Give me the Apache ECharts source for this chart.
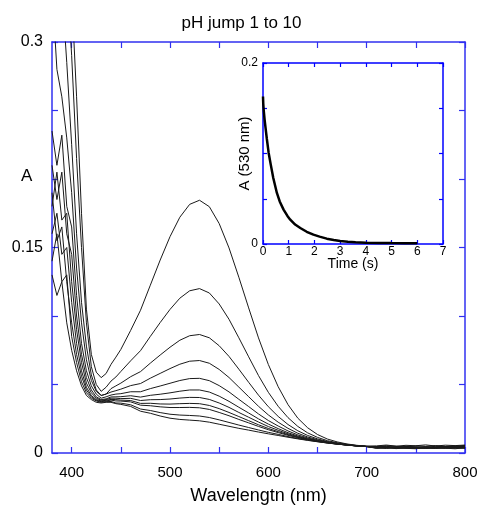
<!DOCTYPE html>
<html><head><meta charset="utf-8">
<script src="https://cdn.jsdelivr.net/npm/echarts@6/dist/echarts.min.js"></script>
<style>html,body{margin:0;padding:0;background:#fff}#c{width:483px;height:510px}</style>
</head><body><div id="c"></div>
<script>
// ---- data ----
const wavelengths = [380,385,390,395,400,405,410,415,420,425,430,435,440,445,450,
  460,470,480,490,500,510,520,530,540,550,560,570,580,590,600,610,620,630,640,650,660,670,680,690,700,
  710,720,730,740,750,760,770,780,790,800];

const spectrum1 = [0.60,0.53,0.46,0.40,0.335,0.26,0.175,0.105,0.072,0.059,0.055,0.058,0.0647,0.070,0.0756,
  0.0895,0.1042,0.1225,0.1408,0.1579,0.1721,0.1815,0.1845,0.1798,0.1675,0.1497,0.1283,0.1059,0.084,0.0646,0.0484,0.0353,0.0254,0.0184,0.0135,0.0102,0.0081,0.0066,0.0056,0.0050,
  0.0052,0.0058,0.0050,0.0056,0.0053,0.0059,0.0051,0.0057,0.0054,0.0058];
const spectrum2 = [0.55,0.48,0.41,0.35,0.29,0.215,0.15,0.095,0.063,0.05,0.045,0.048,0.0525,0.0555,0.0595,
  0.0673,0.0747,0.0851,0.0952,0.1048,0.113,0.1184,0.12,0.1168,0.1088,0.0976,0.0841,0.0702,0.0565,0.0443,0.0341,0.0258,0.0194,0.0147,0.0114,0.009,0.0075,0.0063,0.0054,0.0049,
  0.0047,0.0053,0.0049,0.0044,0.0052,0.0048,0.0054,0.0047,0.0051,0.0055];
const spectrum3 = [0.46,0.40,0.34,0.285,0.225,0.16,0.11,0.078,0.057,0.046,0.042,0.043,0.047,0.049,0.051,
  0.0557,0.0594,0.0656,0.0715,0.0772,0.0823,0.0856,0.0865,0.0841,0.0783,0.0705,0.0612,0.0516,0.0422,0.0338,0.0267,0.0208,0.0162,0.0128,0.0103,0.0084,0.0071,0.0061,0.0054,0.0048,
  0.0044,0.0049,0.0042,0.0048,0.0045,0.0041,0.0049,0.0046,0.0050,0.0048];
const spectrum4 = [0.34,0.28,0.26,0.23,0.19,0.135,0.095,0.068,0.053,0.045,0.042,0.043,0.0445,0.0455,0.0466,
  0.0492,0.0507,0.0546,0.0581,0.0616,0.0648,0.067,0.0675,0.0655,0.061,0.0551,0.0481,0.0411,0.0341,0.0278,0.0225,0.018,0.0144,0.0117,0.0097,0.0081,0.0069,0.006,0.0053,0.0048,
  0.0046,0.0041,0.0047,0.0043,0.0039,0.0046,0.0042,0.0048,0.0044,0.0047];
const spectrum5 = [0.235,0.21,0.232,0.18,0.165,0.115,0.08,0.06,0.049,0.043,0.040,0.041,0.0423,0.043,0.0433,
  0.0447,0.0447,0.047,0.0489,0.0509,0.0529,0.0543,0.0545,0.0528,0.0492,0.0446,0.0392,0.0339,0.0285,0.0237,0.0197,0.0161,0.0132,0.011,0.0092,0.0079,0.0068,0.0059,0.0052,0.0047,
  0.0041,0.0045,0.0038,0.0044,0.0042,0.0037,0.0045,0.0040,0.0046,0.0043];
const spectrum6 = [0.21,0.185,0.205,0.16,0.145,0.10,0.072,0.055,0.046,0.041,0.039,0.0395,0.0409,0.041,0.0411,
  0.0418,0.0408,0.0421,0.0429,0.0439,0.0451,0.046,0.046,0.0445,0.0415,0.0377,0.0334,0.0292,0.0249,0.0211,0.0178,0.0148,0.0124,0.0105,0.0089,0.0077,0.0067,0.0059,0.0052,0.0047,
  0.0043,0.0038,0.0042,0.0036,0.0043,0.0039,0.0035,0.0042,0.0038,0.0044];
const spectrum7 = [0.18,0.205,0.17,0.175,0.125,0.09,0.066,0.051,0.044,0.040,0.0385,0.039,0.040,0.040,0.0397,
  0.0399,0.0383,0.0389,0.039,0.0394,0.0401,0.0406,0.0405,0.0391,0.0365,0.0333,0.0296,0.0261,0.0226,0.0193,0.0166,0.014,0.0119,0.0102,0.0088,0.0076,0.0066,0.0058,0.0052,0.0047,
  0.0039,0.0044,0.0037,0.0041,0.0035,0.0042,0.0038,0.0034,0.0041,0.0045];
const spectrum8 = [0.16,0.175,0.145,0.15,0.11,0.08,0.06,0.048,0.042,0.039,0.038,0.0385,0.0391,0.039,0.0386,
  0.0383,0.0362,0.0363,0.0358,0.0357,0.036,0.0362,0.036,0.0347,0.0324,0.0296,0.0266,0.0236,0.0206,0.0179,0.0156,0.0134,0.0115,0.0099,0.0086,0.0075,0.0066,0.0058,0.0052,0.0047,
  0.0036,0.0041,0.0034,0.0039,0.0037,0.0033,0.0040,0.0036,0.0042,0.0039];
const spectrum9 = [0.19,0.155,0.165,0.125,0.095,0.072,0.056,0.046,0.041,0.0385,0.0375,0.038,0.0386,0.038,0.0379,
  0.0373,0.0349,0.0345,0.0337,0.0332,0.0332,0.0333,0.033,0.0318,0.0296,0.0272,0.0245,0.022,0.0194,0.017,0.0149,0.0129,0.0112,0.0097,0.0085,0.0074,0.0065,0.0058,0.0051,0.0047,
  0.0042,0.0037,0.0043,0.0038,0.0034,0.0041,0.0036,0.0043,0.0037,0.0041];
const spectrum10 = [0.14,0.16,0.125,0.13,0.085,0.066,0.052,0.044,0.040,0.038,0.037,0.0375,0.0376,0.0365,0.0364,
  0.0352,0.0321,0.031,0.0295,0.0283,0.0277,0.0274,0.027,0.0259,0.0242,0.0223,0.0204,0.0186,0.0168,0.0151,0.0136,0.012,0.0106,0.0094,0.0083,0.0073,0.0065,0.0058,0.0051,0.0047,
  0.0034,0.0039,0.0032,0.0037,0.0040,0.0033,0.0038,0.0035,0.0031,0.0038];
const spectrum11 = [0.13,0.115,0.125,0.095,0.075,0.06,0.049,0.042,0.039,0.037,0.0365,0.037,0.037,0.036,0.0355,
  0.034,0.0305,0.029,0.027,0.0254,0.0245,0.024,0.0235,0.0225,0.021,0.0195,0.018,0.0167,0.0153,0.014,0.0128,0.0115,0.0103,0.0092,0.0082,0.0073,0.0065,0.0058,0.0052,0.0048,
  0.0037,0.0033,0.0039,0.0034,0.0031,0.0038,0.0033,0.0040,0.0036,0.0034];
const spectra = [spectrum1,spectrum2,spectrum3,spectrum4,spectrum5,spectrum6,spectrum7,spectrum8,spectrum9,spectrum10,spectrum11];

const times = [0,0.01,0.03,0.06,0.1,0.15,0.22,0.3,0.4,0.54,0.65,0.8,0.95,1.06,1.25,1.45,1.7,1.96,2.2,2.48,2.75,3.0,3.3,3.6,4.0,4.5,5.0,5.5,6.0];
const absorb530 = [0.163,0.155,0.147,0.138,0.128,0.116,0.1006,0.088,0.073,0.0564,0.047,0.038,0.031,0.0269,0.0215,0.0177,0.0135,0.0103,0.0082,0.0059,0.0044,0.0033,0.0026,0.002,0.0015,0.0012,0.001,0.0009,0.0008];

const xTicks = [400,450,500,550,600,650,700,750,800];
const xLabels = [400,500,600,700,800];
const yTicks = [0,0.05,0.1,0.15,0.2,0.25,0.3];
const yLabels = [0,0.15,0.3];
const insetXTicks = [0,1,2,3,4,5,6,7];
const insetYTicks = [0,0.05,0.1,0.15,0.2];
const insetYLabels = [0,0.2];

// ---- chart ----
const FONT = 'Liberation Sans, Arial, Helvetica, sans-serif';
const BLUE = '#3030f0';
const IBLUE = '#0000ff';
const chart = echarts.init(document.getElementById('c'), null, {renderer:'canvas'});

function xAx(grid, pos, min, max, ticks, labels, color, tickLen, fs, margin, extra) {
  return Object.assign({
    type:'value', gridIndex:grid, position:pos, min:min, max:max,
    axisLine:{show:true, onZero:false, lineStyle:{color:color, width:1.5}},
    axisTick:{show:true, inside:true, length:tickLen, customValues:ticks, lineStyle:{color:color, width:1.2}},
    axisLabel: labels ? {show:true, customValues:labels, color:'#000', fontSize:fs, fontFamily:FONT, margin:margin} : {show:false},
    splitLine:{show:false}
  }, extra||{});
}

const option = {
  animation:false,
  backgroundColor:'#fff',
  title:{text:'pH jump 1 to 10', left:'center', top:10,
    textStyle:{fontFamily:FONT, fontSize:17, fontWeight:'normal', color:'#000'}},
  grid:[
    {left:52, right:18, top:42, bottom:55},
    {left:263, right:40, top:63, bottom:266, show:true, backgroundColor:'#fff', borderWidth:0}
  ],
  xAxis:[
    xAx(0,'bottom',380,800,xTicks,xLabels,BLUE,6,15,12,
      {name:'Wavelengtn (nm)', nameLocation:'middle', nameGap:34, nameMoveOverlap:false,
       nameTextStyle:{fontFamily:FONT, fontSize:18, color:'#000'}}),
    xAx(0,'top',380,800,xTicks,null,BLUE,6),
    xAx(1,'bottom',0,7,insetXTicks,insetXTicks,IBLUE,4,12,2,
      {name:'Time (s)', nameLocation:'middle', nameGap:13, nameMoveOverlap:false,
       nameTextStyle:{fontFamily:FONT, fontSize:14, color:'#000'}}),
    xAx(1,'top',0,7,insetXTicks,null,IBLUE,4)
  ],
  yAxis:[
    xAx(0,'left',0,0.3,yTicks,yLabels,BLUE,6,16,9),
    xAx(0,'right',0,0.3,yTicks,null,BLUE,6),
    xAx(1,'left',0,0.2,insetYTicks,insetYLabels,IBLUE,4,12,5,
      {name:'A (530 nm)', nameLocation:'middle', nameGap:11, nameMoveOverlap:false,
       nameTextStyle:{fontFamily:FONT, fontSize:15, color:'#000'}}),
    xAx(1,'right',0,0.2,insetYTicks,null,IBLUE,4)
  ],
  graphic:[
    {type:'text', left:21, top:168, style:{text:'A', fontFamily:FONT, fontSize:17, fill:'#000'}}
  ],
  series: spectra.map(function(s){
    return {type:'line', xAxisIndex:0, yAxisIndex:0, showSymbol:false, symbol:'none',
      clip:true, smooth:false, lineStyle:{color:'#1a1a1a', width:1}, z:2,
      data: wavelengths.map(function(w,i){return [w, s[i]];})};
  }).concat([{
    type:'line', xAxisIndex:2, yAxisIndex:2, showSymbol:false, symbol:'none', clip:true,
    lineStyle:{color:'#000', width:2.5}, z:5,
    data: times.map(function(t,i){return [t, absorb530[i]];})
  }])
};
chart.setOption(option);
</script>
</body></html>
